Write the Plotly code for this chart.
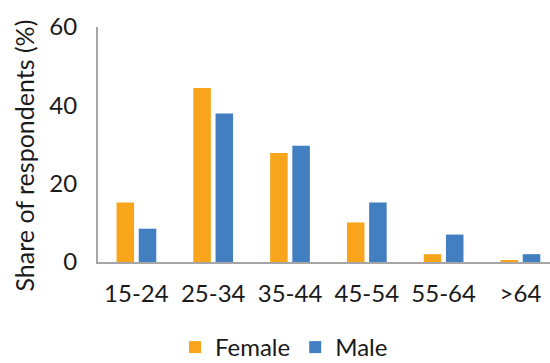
import plotly.graph_objects as go

# Age groups and share of respondents (%) by gender
age_groups = ["15-24", "25-34", "35-44", "45-54", "55-64", ">64"]
female_share = [15.2, 44.4, 27.8, 10.1, 2.0, 0.5]
male_share = [8.5, 37.9, 29.7, 15.2, 7.0, 2.0]
y_ticks = [0, 20, 40, 60]

FEMALE_COLOR = "#F8A51C"
MALE_COLOR = "#427FC1"
AXIS_COLOR = "#A6A6A6"
TEXT_COLOR = "#1a1a1a"
FONT = "Lato"

fig = go.Figure()
fig.add_trace(go.Bar(name="Female", x=age_groups, y=female_share,
                     marker=dict(color=FEMALE_COLOR, line=dict(width=0))))
fig.add_trace(go.Bar(name="Male", x=age_groups, y=male_share,
                     marker=dict(color=MALE_COLOR, line=dict(width=0))))

W, H = 550, 363
L, T, B = 98, 27, 101
plot_w = W - L
plot_h = H - T - B

fig.update_layout(
    width=W, height=H,
    margin=dict(l=L, r=0, t=T, b=B, pad=0, autoexpand=False),
    paper_bgcolor="white", plot_bgcolor="white",
    font=dict(family=FONT, size=24, color=TEXT_COLOR),
    barmode="group", bargap=0.422, bargroupgap=0.21,
    showlegend=True,
    legend=dict(orientation="h", xanchor="center", yanchor="bottom",
                x=(284 - L) / plot_w, y=(T + plot_h - H - 7) / plot_h,
                font=dict(size=24), itemwidth=30, traceorder="normal",
                tracegroupgap=0, bgcolor="rgba(0,0,0,0)", borderwidth=0),
    xaxis=dict(
        type="category", range=[-0.5, 5.385], automargin=False,
        showline=True, linecolor=AXIS_COLOR, linewidth=2,
        showgrid=False, ticks="", ticklabelstandoff=9,
        tickfont=dict(size=24), zeroline=False,
    ),
    yaxis=dict(
        range=[0, 60], tickvals=y_ticks, automargin=False,
        showline=True, linecolor=AXIS_COLOR, linewidth=2,
        showgrid=False, zeroline=False, ticks="", ticklabelstandoff=14,
        tickfont=dict(size=24),
    ),
    annotations=[dict(
        text="Share of respondents (%)", textangle=-90,
        xref="paper", yref="paper",
        x=(23 - L) / plot_w, y=(T + plot_h - 155.5) / plot_h,
        xanchor="center", yanchor="middle", showarrow=False,
        font=dict(family=FONT, size=25, color=TEXT_COLOR),
    )],
)

fig.write_html("out.html")
